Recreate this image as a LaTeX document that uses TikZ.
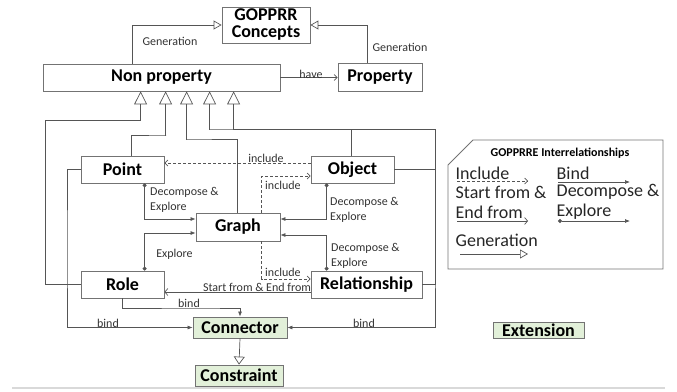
\documentclass[tikz,border=0pt]{standalone}
\usepackage{fontspec}
\setmainfont{Carlito}
\usetikzlibrary{arrows.meta}
\definecolor{ln}{RGB}{85,85,85}
\definecolor{bx}{RGB}{115,115,115}
\definecolor{gfill}{RGB}{226,240,217}
\begin{document}
\begin{tikzpicture}[x=1pt,y=-1pt,
  box/.style={draw=bx, line width=0.8pt, fill=white, inner sep=0pt, font=\fontsize{18}{17}\selectfont\bfseries, align=center},
  gbox/.style={box, fill=gfill},
  lbl/.style={font=\fontsize{12}{15}\selectfont, inner sep=1pt, align=left, text=black!80},
  leg/.style={font=\fontsize{18}{18}\selectfont, inner sep=0.5pt, anchor=west, text=black!85},
  conn/.style={draw=ln, line width=0.7pt},
  gen/.style={conn, -{Triangle[open,length=13pt,width=13pt]}},
  gensmall/.style={conn, -{Triangle[open,length=8pt,width=9pt]}},
  bindarr/.style={conn, -{Latex[length=5pt,width=4pt]}},
  incl/.style={conn, dashed, dash pattern=on 3pt off 2pt, -{Straight Barb[length=3pt,width=6pt]}},
  sfrom/.style={conn, -{Straight Barb[length=3pt,width=7pt]}},
  decomp/.style={conn, {Circle[length=4pt]}-{Latex[length=5pt,width=4pt]}},
  plain/.style={conn}]
\useasboundingbox (0,0) rectangle (677,391);

% nodes
\node[box, minimum width=88pt, minimum height=36pt] (gop) at (266,25) {GOPPRR\\Concepts};
\node[box, minimum width=237pt, minimum height=27pt] (np) at (161.5,77.5) {Non property};
\node[box, minimum width=84pt, minimum height=28pt] (prop) at (380,77) {Property};
\node[box, minimum width=83pt, minimum height=27pt] (point) at (122.5,169.5) {Point};
\node[box, minimum width=83pt, minimum height=27pt] (obj) at (352.5,169.5) {Object};
\node[box, minimum width=84pt, minimum height=28pt] (graph) at (238,227) {Graph};
\node[box, minimum width=83pt, minimum height=27pt] (role) at (122.5,284.5) {Role};
\node[box, minimum width=111pt, minimum height=27pt] (rel) at (366.5,284.5) {Relationship};
\node[gbox, minimum width=94pt, minimum height=21pt] (con) at (240,327.5) {Connector};
\node[gbox, minimum width=88pt, minimum height=21pt] (cst) at (239,375.5) {Constraint};
\node[gbox, minimum width=91pt, minimum height=16pt] (ext) at (538.5,330) {Extension};

% generation to GOPPRR Concepts
\draw[gensmall] ([xshift=90pt]np.north west) |- (gop.west);
\node[lbl] (lg1) at (170,41) {Generation};
\draw[gensmall] ([xshift=30pt]prop.north west) |- (gop.east);
\node[lbl] (lg2) at (400,47) {Generation};

% have
\draw[conn, -{Straight Barb[length=3pt,width=6pt]}] (np.east) -- (np.east -| prop.west);
\node[lbl] (lhave) at (311,74) {have};

% generation to Non property
\draw[gen] (role.west) -| (45,120) -| ([xshift=98pt]np.south west);
\draw[gen] ([xshift=51pt]point.north west) |- (166,135) -| ([xshift=123pt]np.south west);
\draw[gen] ([xshift=42pt]graph.north west) |- (187,139) -| ([xshift=144pt]np.south west);
\draw[gen] ([xshift=41pt]obj.north west) |- (210,129) -| ([xshift=167pt]np.south west);
\draw[gen] (rel.east) -| (435,129) -| ([xshift=191pt]np.south west);

% bind
\draw[bindarr] (point.west) -| (67,250) |- (con.west);
\node[lbl] (lb1) at (108,323) {bind};
\draw[bindarr] (obj.east) -| (435,250) |- (con.east);
\node[lbl] (lb2) at (364,323) {bind};
\draw[bindarr] ([xshift=42pt]role.south west) |- (200,308) -| (con.north);
\node[lbl] (lb3) at (189,303) {bind};

% include
\draw[incl] ([yshift=6.5pt]obj.west) -- ([yshift=6.5pt]point.east);
\node[lbl] (li1) at (266,158) {include};
\draw[incl] ([xshift=66pt]graph.north west) |- ([yshift=-6.5pt]obj.west);
\node[lbl, anchor=west] (li2) at (264,185) {include};
\draw[incl] ([xshift=66pt]graph.south west) |- ([yshift=5.5pt]rel.west);
\node[lbl, anchor=west] (li3) at (264,272) {include};

% start from & end from
\draw[sfrom] ([yshift=-7.5pt]rel.west) -- ([yshift=-7.5pt]role.east);
\node[lbl, anchor=south] (lsf) at (257,293) {Start from \& End from};

% decompose & explore
\draw[decomp] ([xshift=64pt]point.south west) |- ([yshift=8pt]graph.west);
\node[lbl, anchor=west] (ld1) at (149,199.5) {Decompose \&\\Explore};
\draw[decomp] ([xshift=16pt]obj.south west) |- ([yshift=8pt]graph.east);
\node[lbl, anchor=west] (ld2) at (329,209.5) {Decompose \&\\Explore};
\draw[decomp] ([xshift=16pt]rel.north west) |- ([yshift=-8pt]graph.east);
\node[lbl, anchor=west] (ld3) at (330,255.5) {Decompose \&\\Explore};
\draw[decomp] ([xshift=64pt]role.north west) |- ([yshift=-6pt]graph.west);
\node[lbl] (ld4) at (174.5,254) {Explore};

% connector to constraint
\draw[conn, -{Triangle[open,length=8pt,width=11pt]}] (con.south) -- (cst.north);

% legend
\draw[draw=bx, line width=0.8pt] (448,165) -- (473,140) -- (663,140) -- (663,269) -- (448,269) -- cycle;
\node[font=\fontsize{12}{12}\selectfont\bfseries, inner sep=0pt] (lt) at (560,153) {GOPPRRE Interrelationships};
\node[leg] (lgi) at (455,173) {Include};
\node[leg] (lgb) at (556,173) {Bind};
\node[leg] (lgs) at (455,192) {Start from \&};
\node[leg] (lgd) at (556,192) {Decompose \&};
\node[leg] (lge) at (455,212) {End from};
\node[leg] (lgx) at (556,212) {Explore};
\node[leg] (lgg) at (455,240) {Generation};
\coordinate (ia) at (457,181); \coordinate (ib) at (528,181);
\coordinate (ba) at (558,182); \coordinate (bb) at (630,182);
\coordinate (sa) at (457,221); \coordinate (sb) at (528,221);
\coordinate (da) at (558,221); \coordinate (db) at (630,221);
\coordinate (ga) at (460,254); \coordinate (gb) at (528,254);
\draw[incl] (ia) -- (ib);
\draw[bindarr] (ba) -- (bb);
\draw[sfrom] (sa) -- (sb);
\draw[decomp] (da) -- (db);
\draw[conn, -{Triangle[open,length=8pt,width=9pt]}] (ga) -- (gb);

% bottom rule
\coordinate (r1) at (12,388); \coordinate (r2) at (665,388);
\draw[black!15, line width=1.5pt] (r1) -- (r2);
\end{tikzpicture}
\end{document}
